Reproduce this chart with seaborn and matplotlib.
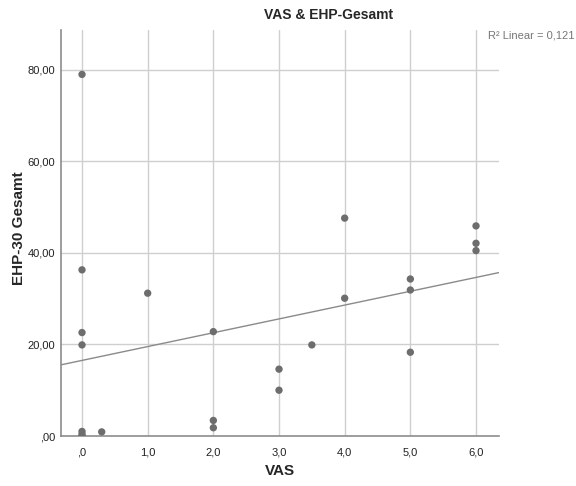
import numpy as np
import pandas as pd
import matplotlib
matplotlib.use("Agg")
import matplotlib.pyplot as plt
import seaborn as sns

vas = [0, 0, 0, 0, 0, 0, 0, 0.3, 1, 2, 2, 2, 3, 3, 3.5, 4, 4, 5, 5, 5, 6, 6, 6]
ehp = [79.0, 36.3, 22.6, 19.9, 1.0, 0.4, 0.0, 0.9, 31.2, 22.8, 3.4, 1.8, 14.6, 10.0,
       19.9, 47.6, 30.1, 34.3, 31.9, 18.3, 45.9, 42.1, 40.5]
x_ticks = [0, 1, 2, 3, 4, 5, 6]
x_tick_labels = [",0", "1,0", "2,0", "3,0", "4,0", "5,0", "6,0"]
y_ticks = [0, 20, 40, 60, 80]
y_tick_labels = [",00", "20,00", "40,00", "60,00", "80,00"]
title = "VAS & EHP-Gesamt"
r2_label = "R² Linear = 0,121"
x_label = "VAS"
y_label = "EHP-30 Gesamt"

df = pd.DataFrame({"VAS": vas, "EHP": ehp})

sns.set_style("white")
plt.rcParams["font.family"] = ["Liberation Sans", "DejaVu Sans"]

fig = plt.figure(figsize=(5.76, 4.86), dpi=100)
ax = fig.add_axes([61 / 576, 50 / 486, 438 / 576, 406 / 486])
ax.set_xlim(-0.32, 6.35)
ax.set_ylim(0, 88.7)

grid_c = "#cfcfcf"
for xv in x_ticks:
    ax.axvline(xv, color=grid_c, lw=1.0, zorder=0)
for yv in y_ticks[1:]:
    ax.axhline(yv, color=grid_c, lw=1.0, zorder=0)

sns.regplot(data=df, x="VAS", y="EHP", ax=ax, ci=None, truncate=False,
            scatter_kws=dict(s=28, color="#6d6d6d", edgecolor="none", zorder=3, alpha=1),
            line_kws=dict(color="#8a8a8a", lw=1.0, zorder=2))

ax.set_xticks(x_ticks)
ax.set_xticklabels(x_tick_labels)
ax.set_yticks(y_ticks)
ax.set_yticklabels(y_tick_labels)
ax.tick_params(axis="both", length=0, labelsize=8, colors="#222222")
ax.tick_params(axis="x", pad=8)
ax.tick_params(axis="y", pad=4)
ax.set_xlabel("")
ax.set_ylabel("")

for s in ["top", "right"]:
    ax.spines[s].set_visible(False)
for s in ["left", "bottom"]:
    ax.spines[s].set_color("#8c8c8c")
    ax.spines[s].set_linewidth(1.2)

fig.text(280 / 576, 1 - 471 / 486, x_label, ha="center", va="center",
         fontsize=11, fontweight="bold")
fig.text(19 / 576, 1 - 228 / 486, y_label, ha="center", va="center",
         rotation=90, fontsize=11, fontweight="bold")
fig.text(329 / 576, 1 - 15 / 486, title, ha="center", va="center",
         fontsize=10, fontweight="bold")
fig.text(574 / 576, 1 - 35 / 486, r2_label, ha="right", va="center",
         fontsize=8, color="#777777")

fig.savefig("out.png", dpi=100, facecolor="white")
